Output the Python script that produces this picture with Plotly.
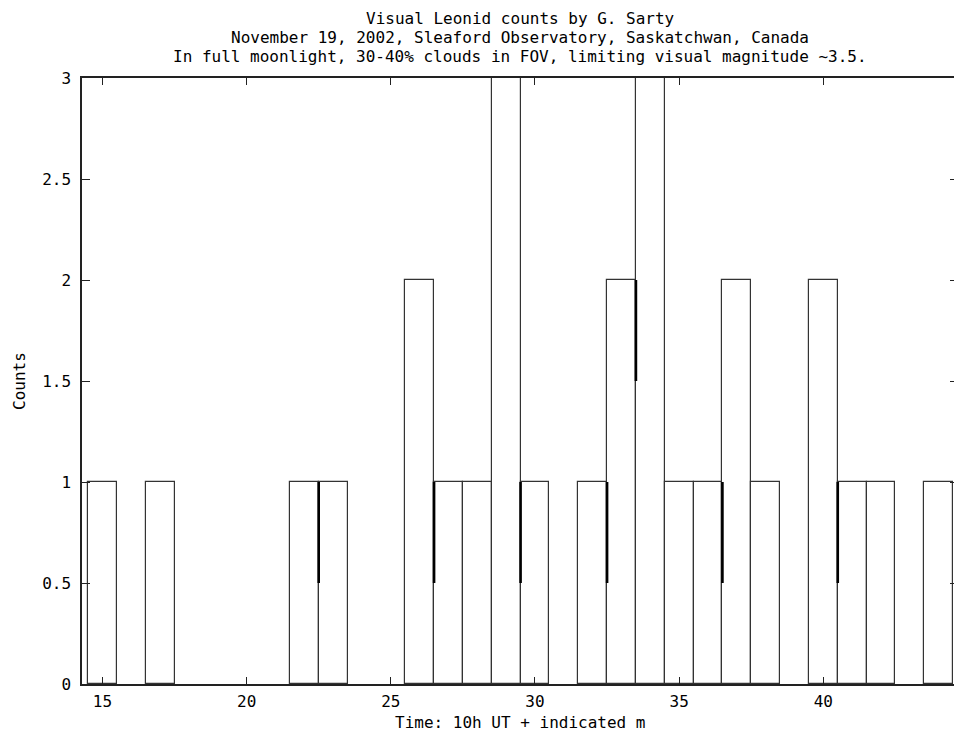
import plotly.graph_objects as go

# ---- data ----
minutes = [15, 17, 22, 23, 26, 27, 28, 29, 30, 32, 33, 34, 35, 36, 37, 38, 40, 41, 42, 44]
counts = [1, 1, 1, 1, 2, 1, 1, 3, 1, 1, 2, 3, 1, 1, 2, 1, 2, 1, 1, 1]

# darker overlap strokes visible on some shared box edges
edge_x = [22.5, 26.5, 29.5, 32.5, 33.5, 36.5, 40.5]
edge_low = [0.5, 0.5, 0.5, 0.5, 1.5, 0.5, 0.5]
edge_high = [1, 1, 1, 1, 2, 1, 1]

x_ticks = [15, 20, 25, 30, 35, 40]
x_tick_labels = ["15", "20", "25", "30", "35", "40"]
y_ticks = [0, 0.5, 1, 1.5, 2, 2.5, 3]
y_tick_labels = ["0", "0.5", "1", "1.5", "2", "2.5", "3"]

title_lines = [
    "Visual Leonid counts by G. Sarty",
    "November 19, 2002, Sleaford Observatory, Saskatchwan, Canada",
    "In full moonlight, 30-40% clouds in FOV, limiting visual magnitude ~3.5.",
]
x_title = "Time: 10h UT + indicated m"
y_title = "Counts"

FONT = "DejaVu Sans Mono"
FS = 16

fig = go.Figure()
fig.add_trace(go.Bar(
    x=minutes, y=counts, width=1,
    marker=dict(color="white", line=dict(color="#333333", width=1.2)),
    showlegend=False, hoverinfo="x+y",
))

ex, ey = [], []
for x, lo, hi in zip(edge_x, edge_low, edge_high):
    ex += [x, x, None]
    ey += [lo, hi, None]
fig.add_trace(go.Scatter(
    x=ex, y=ey, mode="lines",
    line=dict(color="black", width=2.6),
    showlegend=False, hoverinfo="skip",
))

annotations = []
shifts = [59.6, 40.8, 22.0]
for line, s in zip(title_lines, shifts):
    annotations.append(dict(
        text=line, x=0.5, y=1, xref="paper", yref="paper",
        xanchor="center", yanchor="middle", yshift=s, showarrow=False,
        font=dict(family=FONT, size=FS, color="black"),
    ))
annotations.append(dict(
    text=x_title, x=0.5, y=0, xref="paper", yref="paper",
    xanchor="center", yanchor="middle", yshift=-38, showarrow=False,
    font=dict(family=FONT, size=FS, color="black"),
))
annotations.append(dict(
    text=y_title, x=0, y=0.5, xref="paper", yref="paper",
    xanchor="center", yanchor="middle", xshift=-63, textangle=-90,
    showarrow=False, font=dict(family=FONT, size=FS, color="black"),
))

# the page body adds an 8px offset, so the figure is sized to the remaining window
fig.update_layout(
    width=954, height=724,
    margin=dict(l=74, r=2, t=70, b=48),
    paper_bgcolor="white", plot_bgcolor="white",
    font=dict(family=FONT, size=FS, color="black"),
    bargap=0,
    annotations=annotations,
    xaxis=dict(
        range=[14.29, 44.67], tickmode="array", tickvals=x_ticks, ticktext=x_tick_labels,
        ticks="inside", ticklen=7, tickwidth=1.2, tickcolor="#222",
        showline=True, linecolor="#222", linewidth=1.5, mirror="ticks",
        showgrid=False, zeroline=False, ticklabelstandoff=2,
    ),
    yaxis=dict(
        range=[0, 3], tickmode="array", tickvals=y_ticks, ticktext=y_tick_labels,
        ticks="inside", ticklen=8, tickwidth=1.2, tickcolor="#222",
        showline=True, linecolor="#222", linewidth=1.5, mirror="ticks",
        showgrid=False, zeroline=False, ticklabelstandoff=6,
    ),
)

fig.write_html("out.html")
